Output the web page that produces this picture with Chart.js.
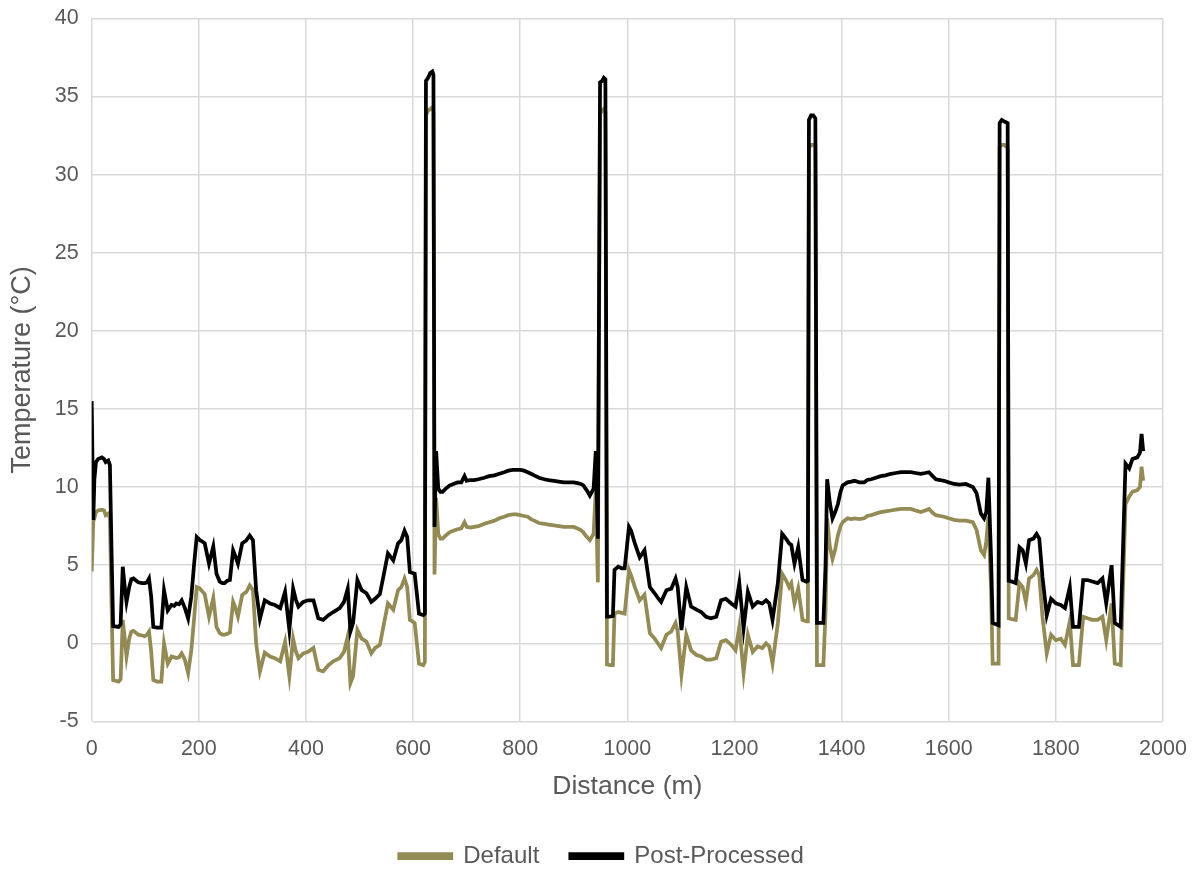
<!DOCTYPE html>
<html>
<head>
<meta charset="utf-8">
<title>Temperature profile</title>
<script src="https://cdn.jsdelivr.net/npm/chart.js@4.4.1/dist/chart.umd.min.js"></script>
<style>
    html, body { margin: 0; padding: 0; background: #fff; overflow: hidden; }
    .chart-wrap { width: 1201px; height: 878px; position: relative; }
</style>
</head>
<body>
<div class="chart-wrap">
    <canvas id="tempChart"></canvas>
</div>
<script>
// Distance along the profile (m)
const distance = [
    0, 3, 5, 8, 12, 19, 23, 26, 31, 34, 37, 40, 50, 54, 58, 62, 65, 70, 74, 78,
    87, 94, 99, 103, 107, 111, 115, 122, 130, 135, 142, 149, 154, 158, 163, 168, 174, 180, 186, 191,
    196, 202, 207, 211, 219, 227, 233, 239, 244, 248, 253, 258, 264, 268, 273, 281, 289, 295, 301, 307,
    314, 323, 333, 342, 352, 361, 369, 376, 381, 386, 395, 404, 414, 423, 432, 442, 451, 463, 471, 478,
    483, 488, 496, 504, 513, 522, 529, 538, 547, 553, 563, 572, 578, 584, 589, 594, 603, 611, 619, 622,
    624, 628, 632, 636, 638, 640, 643, 647, 651, 655, 661, 668, 675, 683, 690, 696, 700, 707, 714, 722,
    733, 742, 752, 761, 770, 778, 786, 793, 800, 807, 814, 820, 826, 835, 845, 853, 863, 872, 882, 891,
    900, 907, 913, 918, 922, 926, 930, 937, 941, 945, 949, 953, 956, 959, 962, 967, 973, 976, 983, 990,
    995, 1003, 1007, 1014, 1023, 1032, 1042, 1051, 1057, 1063, 1073, 1082, 1090, 1094, 1101, 1110, 1119, 1129, 1138, 1147,
    1156, 1166, 1175, 1184, 1194, 1202, 1209, 1217, 1225, 1234, 1243, 1252, 1259, 1265, 1271, 1281, 1289, 1296, 1302, 1306,
    1312, 1319, 1327, 1334, 1337, 1339, 1343, 1347, 1351, 1354, 1360, 1366, 1370, 1373, 1378, 1383, 1388, 1393, 1398, 1402,
    1411, 1418, 1424, 1433, 1442, 1448, 1455, 1464, 1473, 1482, 1492, 1501, 1511, 1520, 1529, 1538, 1548, 1556, 1563, 1570,
    1576, 1584, 1591, 1600, 1610, 1620, 1632, 1645, 1652, 1660, 1666, 1670, 1674, 1679, 1682, 1693, 1695, 1699, 1704, 1710,
    1712, 1718, 1725, 1732, 1738, 1744, 1750, 1758, 1764, 1769, 1775, 1783, 1791, 1800, 1809, 1817, 1826, 1832, 1843, 1851,
    1859, 1868, 1878, 1887, 1894, 1904, 1910, 1921, 1930, 1937, 1943, 1952, 1957, 1960, 1963
];

// Default calibration (°C)
const defaultTemp = [
    4.6, 7.8, 8.0, 8.4, 8.5, 8.55, 8.5, 8.2, 8.3, 8.0, 2.5, -2.35, -2.45, -2.3, 1.5, 0.2, -0.85, 0.3, 0.75, 0.8,
    0.55, 0.5, 0.45, 0.55, 0.75, -0.5, -2.35, -2.45, -2.45, 0.0, -1.3, -0.85, -0.9, -0.95, -0.9, -0.65, -1.05, -1.9, -0.45, 1.5,
    3.6, 3.5, 3.3, 3.15, 1.7, 2.9, 1.05, 0.65, 0.55, 0.55, 0.6, 0.7, 2.65, 2.3, 1.7, 3.1, 3.3, 3.7, 3.4, 0.0,
    -1.8, -0.6, -0.85, -0.95, -1.15, 0.1, -2.1, 0.3, -0.5, -0.95, -0.65, -0.55, -0.3, -1.7, -1.8, -1.4, -1.15, -0.95, -0.55, 0.45,
    -2.55, -2.1, 0.85, 0.3, 0.1, -0.65, -0.3, -0.1, 1.5, 2.55, 2.15, 3.4, 3.6, 4.15, 3.6, 1.5, 1.3, -1.3, -1.4, -1.2,
    33.8, 34.1, 34.2, 34.3, 34.0, 4.4, 9.3, 7.0, 6.7, 6.7, 6.9, 7.1, 7.2, 7.3, 7.35, 7.75, 7.45, 7.4, 7.45, 7.5,
    7.65, 7.75, 7.85, 8.0, 8.1, 8.2, 8.25, 8.25, 8.2, 8.15, 8.1, 7.95, 7.85, 7.7, 7.65, 7.6, 7.55, 7.5, 7.45, 7.45,
    7.45, 7.35, 7.25, 7.1, 6.9, 6.75, 6.6, 7.0, 9.8, 3.9, 33.9, 34.1, 34.2, 34.0, -1.35, -1.4, -1.4, 1.9, 2.0, 1.95,
    1.9, 4.7, 4.35, 3.6, 2.75, 3.1, 0.65, 0.3, 0.0, -0.3, 0.55, 0.75, 1.3, 0.75, -2.0, 0.55, -0.45, -0.75, -0.85, -1.05,
    -1.05, -0.95, 0.1, 0.2, -0.1, -0.45, 1.05, -1.9, 0.55, -0.55, -0.2, -0.3, 0.0, -0.2, -1.3, 1.3, 4.45, 4.05, 3.6, 3.85,
    2.55, 3.5, 1.5, 1.4, 1.4, 31.7, 31.9, 31.9, 31.8, -1.4, -1.4, -1.4, 2.0, 8.0, 6.2, 5.4, 6.0, 6.9, 7.5, 7.75,
    8.0, 7.95, 8.0, 7.95, 8.0, 8.15, 8.2, 8.3, 8.4, 8.45, 8.5, 8.55, 8.6, 8.6, 8.6, 8.5, 8.4, 8.5, 8.6, 8.35,
    8.2, 8.15, 8.1, 8.0, 7.9, 7.85, 7.85, 7.75, 7.25, 5.95, 5.65, 6.5, 8.1, 3.4, -1.3, -1.3, 31.8, 31.9, 31.9, 31.7,
    1.6, 1.55, 1.5, 3.85, 3.6, 2.65, 4.15, 4.35, 4.7, 4.35, 1.7, -0.65, 0.55, 0.2, 0.3, -0.1, 1.4, -1.4, -1.4, 1.7,
    1.6, 1.5, 1.5, 1.7, 0.2, 2.55, -1.3, -1.4, 8.9, 9.4, 9.7, 9.8, 10.0, 11.3, 10.4
];

// Post-processed temperature (°C)
const postTemp = [
    15.5, 7.9, 10.5, 11.6, 11.8, 11.9, 11.8, 11.6, 11.7, 11.4, 6.0, 1.1, 1.05, 1.2, 4.9, 3.5, 2.65, 3.6, 4.1, 4.15,
    3.9, 3.85, 3.85, 3.9, 4.15, 3.0, 1.05, 1.0, 1.0, 3.4, 2.1, 2.45, 2.4, 2.55, 2.5, 2.75, 2.25, 1.6, 3.0, 5.0,
    6.8, 6.6, 6.5, 6.4, 5.1, 6.2, 4.45, 3.95, 3.85, 3.85, 4.0, 4.05, 5.95, 5.6, 5.1, 6.4, 6.6, 6.9, 6.6, 3.4,
    1.55, 2.75, 2.55, 2.45, 2.25, 3.3, 0.85, 3.5, 2.8, 2.35, 2.65, 2.75, 2.75, 1.6, 1.5, 1.8, 2.0, 2.25, 2.65, 3.5,
    0.75, 1.3, 4.05, 3.4, 3.2, 2.65, 2.85, 3.15, 4.7, 5.75, 5.3, 6.4, 6.6, 7.2, 6.8, 4.55, 4.45, 1.9, 1.8, 1.9,
    36.0, 36.2, 36.5, 36.6, 36.4, 7.45, 12.3, 9.9, 9.7, 9.7, 9.9, 10.1, 10.2, 10.3, 10.3, 10.7, 10.4, 10.45, 10.45, 10.5,
    10.6, 10.7, 10.75, 10.85, 10.95, 11.05, 11.1, 11.1, 11.1, 11.05, 10.95, 10.85, 10.75, 10.6, 10.5, 10.45, 10.4, 10.35, 10.3, 10.3,
    10.3, 10.25, 10.2, 10.1, 9.9, 9.7, 9.45, 9.9, 12.3, 6.7, 35.9, 36.0, 36.2, 36.1, 1.7, 1.7, 1.75, 4.7, 4.9, 4.8,
    4.8, 7.45, 7.2, 6.4, 5.5, 5.95, 3.6, 3.2, 2.9, 2.65, 3.4, 3.5, 4.15, 3.6, 0.85, 3.6, 2.35, 2.15, 2.0, 1.7,
    1.6, 1.7, 2.75, 2.85, 2.55, 2.35, 3.85, 0.95, 3.3, 2.35, 2.65, 2.55, 2.75, 2.55, 1.5, 3.85, 7.0, 6.7, 6.4, 6.3,
    5.1, 6.15, 4.05, 3.95, 4.0, 33.5, 33.8, 33.8, 33.6, 1.3, 1.3, 1.3, 5.0, 10.5, 9.0, 8.0, 8.4, 8.9, 9.7, 10.1,
    10.3, 10.35, 10.4, 10.3, 10.3, 10.45, 10.5, 10.6, 10.7, 10.75, 10.85, 10.9, 10.95, 10.95, 10.95, 10.9, 10.85, 10.9, 10.95, 10.7,
    10.5, 10.45, 10.4, 10.3, 10.2, 10.15, 10.2, 10.0, 9.6, 8.3, 8.0, 8.4, 10.6, 5.5, 1.3, 1.15, 33.3, 33.5, 33.4, 33.3,
    4.0, 3.95, 3.85, 6.15, 5.95, 5.1, 6.6, 6.7, 7.0, 6.7, 4.25, 1.8, 2.85, 2.55, 2.45, 2.25, 3.6, 1.05, 1.05, 4.05,
    4.05, 3.95, 3.85, 4.15, 2.55, 5.0, 1.3, 1.05, 11.5, 11.2, 11.8, 11.9, 12.2, 13.4, 12.3
];

// Axis ticks
const xTicks = [0, 200, 400, 600, 800, 1000, 1200, 1400, 1600, 1800, 2000];
const yTicks = [-5, 0, 5, 10, 15, 20, 25, 30, 35, 40];

document.addEventListener('DOMContentLoaded', function() {
    const textColor = '#595959';
    const gridColor = '#d9d9d9';
    const fontFamily = '"Liberation Sans", Arial, sans-serif';

    function toPoints(values) {
        return distance.map((d, i) => ({ x: d, y: values[i] }));
    }

    // keep the layout padding in charge of the plot edges
    function dropEdgePadding(scale) {
        scale.paddingTop = 0;
        scale.paddingBottom = 0;
        scale.paddingLeft = 0;
        scale.paddingRight = 0;
    }

    // the legend sits centred under the whole canvas, not just the plot
    const legendShift = {
        id: 'legendShift',
        afterLayout: function(chart) {
            if (!chart.legend) return;
            chart.legend.left += 20;
            chart.legend.right += 20;
        }
    };

    const ctx = document.getElementById('tempChart');
    new Chart(ctx, {
        type: 'line',
        data: {
            datasets: [
                {
                    // first dataset is drawn on top
                    label: 'Post-Processed',
                    data: toPoints(postTemp),
                    borderColor: '#000000',
                    backgroundColor: '#000000',
                    borderWidth: 3.75,
                    pointRadius: 0,
                    tension: 0
                },
                {
                    label: 'Default',
                    data: toPoints(defaultTemp),
                    borderColor: '#948a54',
                    backgroundColor: '#948a54',
                    borderWidth: 3.75,
                    pointRadius: 0,
                    tension: 0
                }
            ]
        },
        plugins: [legendShift],
        options: {
            responsive: true,
            maintainAspectRatio: false,
            animation: false,
            events: [],
            layout: {
                padding: { top: 18.4, right: 38, bottom: 0, left: 0 }
            },
            plugins: {
                legend: {
                    position: 'bottom',
                    reverse: true,
                    labels: {
                        boxWidth: 52,
                        boxHeight: 4,
                        padding: 31,
                        color: textColor,
                        font: { family: fontFamily, size: 24 }
                    }
                },
                tooltip: { enabled: false }
            },
            scales: {
                x: {
                    type: 'linear',
                    min: 0,
                    max: 2000,
                    afterBuildTicks: function(scale) {
                        scale.ticks = xTicks.map(v => ({ value: v }));
                    },
                    afterFit: function(scale) {
                        scale.height = 91.6;
                        dropEdgePadding(scale);
                    },
                    grid: { color: gridColor, lineWidth: 1.5, drawTicks: false },
                    border: { display: false },
                    ticks: {
                        padding: 15,
                        color: textColor,
                        font: { family: fontFamily, size: 21.5 },
                        callback: v => String(v)
                    },
                    title: {
                        display: true,
                        text: 'Distance (m)',
                        color: textColor,
                        font: { family: fontFamily, size: 26.5 },
                        padding: { top: 0, bottom: 10 }
                    }
                },
                y: {
                    min: -5,
                    max: 40,
                    afterBuildTicks: function(scale) {
                        scale.ticks = yTicks.map(v => ({ value: v }));
                    },
                    afterFit: function(scale) {
                        scale.width = 91.7;
                        dropEdgePadding(scale);
                    },
                    grid: { color: gridColor, lineWidth: 1.5, drawTicks: false },
                    border: { display: false },
                    ticks: {
                        padding: 13,
                        color: textColor,
                        font: { family: fontFamily, size: 21.5 },
                        callback: v => String(v)
                    },
                    title: {
                        display: true,
                        text: 'Temperature (°C)',
                        color: textColor,
                        font: { family: fontFamily, size: 27 },
                        padding: { top: 6, bottom: 0 }
                    }
                }
            }
        }
    });
});
</script>
</body>
</html>
